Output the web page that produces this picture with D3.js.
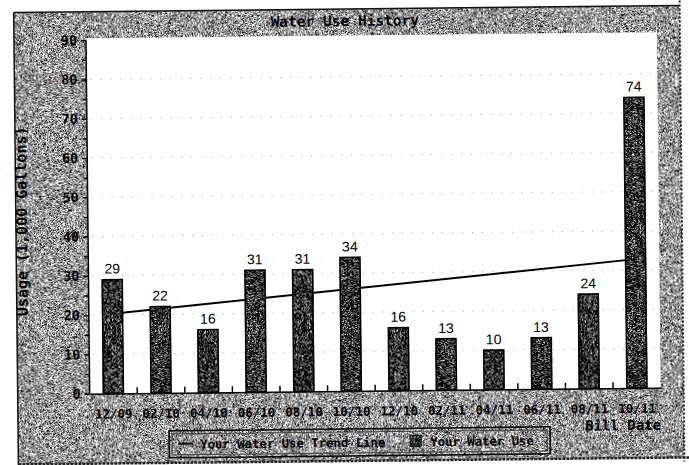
<!DOCTYPE html>
<html>
<head>
<meta charset="utf-8">
<script src="https://cdn.jsdelivr.net/npm/d3@7"></script>
<style>
  html, body { margin: 0; padding: 0; background: #fff; }
  svg { display: block; }
</style>
</head>
<body>
<svg id="chart" width="689" height="465"></svg>
<script>
// values
const billDates = ["12/09", "02/10", "04/10", "06/10", "08/10", "10/10", "12/10", "02/11", "04/11", "06/11", "08/11", "10/11"];
const usage = [29, 22, 16, 31, 31, 34, 16, 13, 10, 13, 24, 74];
const trendEnds = [20.3, 32.8]; // trend line value at first and last bill
const yTicks = [0, 10, 20, 30, 40, 50, 60, 70, 80, 90];
const yMinorTicks = [5, 15, 25, 35, 45, 55, 65, 75, 85];

const svg = d3.select("#chart");
const defs = svg.append("defs");

// scanner grain: turbulence noise pushed through a steep ramp
function grain(id, slope, intercept, seed) {
  const f = defs.append("filter").attr("id", id)
    .attr("x", 0).attr("y", 0).attr("width", 1).attr("height", 1)
    .attr("color-interpolation-filters", "sRGB");
  f.append("feTurbulence").attr("type", "fractalNoise")
    .attr("baseFrequency", 1.7).attr("numOctaves", 1).attr("seed", seed);
  f.append("feColorMatrix").attr("type", "matrix")
    .attr("values", "0.34 0.33 0.33 0 0  0.34 0.33 0.33 0 0  0.34 0.33 0.33 0 0  0 0 0 0 1");
  const ct = f.append("feComponentTransfer");
  ["R", "G", "B"].forEach(c => ct.append("feFunc" + c).attr("type", "linear")
    .attr("slope", slope).attr("intercept", intercept));
}
grain("bgGrain", 5, -1.9, 7);
grain("barGrain", 5, -2.3, 3);

// the page was scanned a little crooked
const g = svg.append("g").attr("transform", "rotate(-0.6, 345, 232)");

const mono = "'DejaVu Sans Mono', 'Liberation Mono', monospace";

// frame
g.append("rect").attr("x", 16).attr("y", 9).attr("width", 666).attr("height", 452)
  .attr("filter", "url(#bgGrain)");
g.append("line").attr("x1", 16).attr("x2", 682).attr("y1", 9).attr("y2", 9)
  .attr("stroke", "#111").attr("stroke-width", 1.5);
g.append("line").attr("x1", 16).attr("x2", 16).attr("y1", 9).attr("y2", 463)
  .attr("stroke", "#111").attr("stroke-width", 1.5);
g.append("line").attr("x1", 682).attr("x2", 682).attr("y1", 0).attr("y2", 465)
  .attr("stroke", "#222").attr("stroke-width", 2).attr("stroke-dasharray", "2,2");
g.append("line").attr("x1", 16).attr("x2", 689).attr("y1", 461).attr("y2", 461)
  .attr("stroke", "#222").attr("stroke-width", 2.5).attr("stroke-dasharray", "3,1");

const x = d3.scaleBand().domain(billDates).range([88, 659])
  .paddingInner(0.58).paddingOuter(0.29);
const y = d3.scaleLinear().domain([0, 90]).range([391, 37.5]);

// plot area
g.append("rect").attr("x", 88).attr("y", y(90) - 2)
  .attr("width", 659 - 88).attr("height", y(0) - y(90) + 2).attr("fill", "#fff");

// faint dotted grid left over from the scan
g.append("g").selectAll("line").data(yTicks.slice(1, -1)).join("line")
  .attr("x1", 92).attr("x2", 655)
  .attr("y1", d => y(d)).attr("y2", d => y(d))
  .attr("stroke", "#666").attr("stroke-width", 1)
  .attr("stroke-dasharray", "1,9").attr("opacity", 0.6);

// trend line (behind bars)
const trend = [
  { date: billDates[0], v: trendEnds[0] },
  { date: billDates[billDates.length - 1], v: trendEnds[1] }
];
g.append("path").datum(trend)
  .attr("d", d3.line().x(d => x(d.date) + x.bandwidth() / 2).y(d => y(d.v)))
  .attr("stroke", "#000").attr("stroke-width", 2).attr("fill", "none");

// bars
const bars = g.append("g");
bars.selectAll("rect.fill").data(usage).join("rect").attr("class", "fill")
  .attr("x", (d, i) => x(billDates[i]))
  .attr("y", d => y(d))
  .attr("width", x.bandwidth())
  .attr("height", d => y(0) - y(d))
  .attr("filter", "url(#barGrain)");
bars.selectAll("rect.edge").data(usage).join("rect").attr("class", "edge")
  .attr("x", (d, i) => x(billDates[i]))
  .attr("y", d => y(d))
  .attr("width", x.bandwidth())
  .attr("height", d => y(0) - y(d))
  .attr("fill", "none").attr("stroke", "#000").attr("stroke-width", 1.5);

// value labels
g.append("g").selectAll("text").data(usage).join("text")
  .attr("x", (d, i) => x(billDates[i]) + x.bandwidth() / 2)
  .attr("y", d => y(d) - 6)
  .attr("text-anchor", "middle")
  .attr("font-family", "'Liberation Sans', Arial, sans-serif")
  .attr("font-size", 14).attr("fill", "#000")
  .text(d => d);

// y axis
const yAxis = g.append("g").attr("transform", "translate(88,0)")
  .call(d3.axisLeft(y).tickValues(yTicks).tickSize(5).tickPadding(4).tickFormat(d3.format("d")));
yAxis.select(".domain").attr("stroke", "#000").attr("stroke-width", 1.5).attr("d", `M0,${y(90)}V${y(0)}`);
yAxis.selectAll(".tick line").attr("stroke-width", 1.5);
yAxis.selectAll("text").attr("font-family", mono).attr("font-weight", "bold")
  .attr("font-size", 13.5).attr("fill", "#000");
g.append("g").attr("transform", "translate(88,0)")
  .call(d3.axisLeft(y).tickValues(yMinorTicks).tickSize(4).tickFormat(""))
  .call(s => s.select(".domain").remove())
  .selectAll(".tick line").attr("stroke-width", 1.5);

// x axis: labels under bars, small inner ticks between bills
const xAxis = g.append("g").attr("transform", `translate(0,${y(0)})`)
  .call(d3.axisBottom(x).tickSize(0).tickPadding(16));
xAxis.select(".domain").attr("stroke", "#000").attr("stroke-width", 1.5);
xAxis.selectAll("text").attr("font-family", mono).attr("font-weight", "bold")
  .attr("font-size", 12.5).attr("fill", "#000");
g.append("g").selectAll("line").data(billDates.slice(1)).join("line")
  .attr("x1", d => x(d) - x.step() * x.paddingInner() / 2)
  .attr("x2", d => x(d) - x.step() * x.paddingInner() / 2)
  .attr("y1", y(0)).attr("y2", y(0) - 6)
  .attr("stroke", "#000").attr("stroke-width", 1.5);

// titles
g.append("text").attr("x", 347).attr("y", 26).attr("text-anchor", "middle")
  .attr("font-family", mono).attr("font-weight", "bold").attr("font-size", 14.5)
  .text("Water Use History");
g.append("text").attr("transform", "translate(27,218) rotate(-90)")
  .attr("text-anchor", "middle")
  .attr("font-family", mono).attr("font-weight", "bold").attr("font-size", 15)
  .text("Usage (1,000 Gallons)");
g.append("text").attr("x", 659).attr("y", 433).attr("text-anchor", "end")
  .attr("font-family", mono).attr("font-weight", "bold").attr("font-size", 14)
  .text("Bill Date");

// legend
const lg = g.append("g");
lg.append("rect").attr("x", 167).attr("y", 429).attr("width", 381).attr("height", 27)
  .attr("fill", "none").attr("stroke", "#000").attr("stroke-width", 1.5);
lg.append("rect").attr("x", 170).attr("y", 432).attr("width", 375).attr("height", 21)
  .attr("fill", "none").attr("stroke", "#444").attr("stroke-width", 1);
lg.append("line").attr("x1", 176).attr("x2", 191).attr("y1", 442).attr("y2", 442)
  .attr("stroke", "#000").attr("stroke-width", 2);
lg.append("text").attr("x", 198).attr("y", 447).attr("font-weight", "bold")
  .attr("font-family", mono).attr("font-size", 12.3).text("Your Water Use Trend Line");
lg.append("rect").attr("x", 408).attr("y", 436).attr("width", 11).attr("height", 11)
  .attr("filter", "url(#barGrain)");
lg.append("rect").attr("x", 408).attr("y", 436).attr("width", 11).attr("height", 11)
  .attr("fill", "none").attr("stroke", "#000");
lg.append("text").attr("x", 428).attr("y", 447).attr("font-weight", "bold")
  .attr("font-family", mono).attr("font-size", 12.3).text("Your Water Use");
</script>
</body>
</html>
